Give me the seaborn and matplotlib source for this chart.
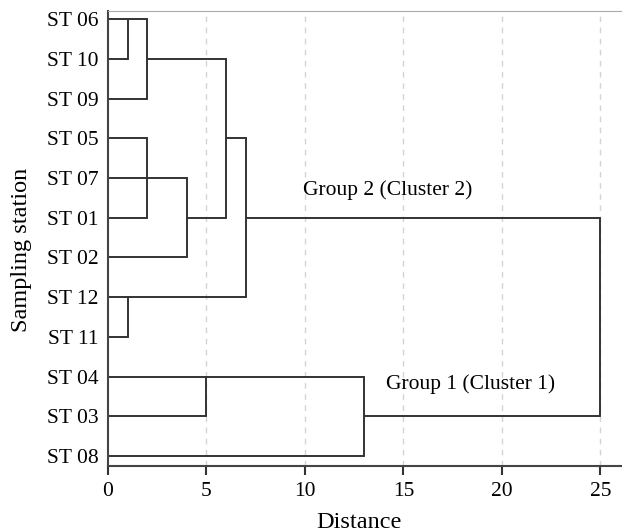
import pandas as pd
import numpy as np
import matplotlib.pyplot as plt
import seaborn as sns

# stations top to bottom, and where each leaf line ends
stations = ["ST 06", "ST 10", "ST 09", "ST 05", "ST 07", "ST 01",
            "ST 02", "ST 12", "ST 11", "ST 04", "ST 03", "ST 08"]
leaf_ends = [2, 1, 2, 2, 4, 2, 4, 7, 1, 13, 5, 13]

# vertical joins: (distance, from station, to station)
joins = [(1, "ST 06", "ST 10"), (2, "ST 06", "ST 09"), (2, "ST 05", "ST 01"),
         (4, "ST 07", "ST 02"), (6, "ST 10", "ST 01"), (7, "ST 05", "ST 12"),
         (1, "ST 12", "ST 11"), (5, "ST 04", "ST 03"), (13, "ST 04", "ST 08"),
         (25, "ST 01", "ST 03")]

# horizontal links between joins: (station row, from distance, to distance)
links = [("ST 10", 2, 6), ("ST 01", 4, 6), ("ST 05", 6, 7),
         ("ST 01", 7, 25), ("ST 03", 13, 25)]

group_labels = [("Group 2 (Cluster 2)", 9.9, "ST 07", 0.3),
                ("Group 1 (Cluster 1)", 14.1, "ST 04", 0.18)]

pos = {s: i for i, s in enumerate(stations)}

#%% build segments
rows = []
k = 0
for s, e in zip(stations, leaf_ends):
    rows += [(0, pos[s], k), (e, pos[s], k)]
    k += 1
for d, a, b in joins:
    rows += [(d, pos[a], k), (d, pos[b], k)]
    k += 1
for s, x0, x1 in links:
    rows += [(x0, pos[s], k), (x1, pos[s], k)]
    k += 1
df = pd.DataFrame(rows, columns=["dist", "row", "seg"])

sns.set_style("white", {"xtick.bottom": True})
plt.rcParams['font.family'] = ['Liberation Serif', 'DejaVu Serif']
plt.rcParams['text.color'] = 'black'
plt.rcParams['axes.labelcolor'] = 'black'
plt.rcParams['ytick.color'] = 'black'

fig = plt.figure(figsize=(6.22, 5.32), dpi=100)
ax = fig.add_axes([0.1736, 0.124, 0.8264, 0.855])

sns.lineplot(data=df, x="dist", y="row", units="seg", estimator=None,
             sort=False, color="#333333", linewidth=1.4, ax=ax)

ax.set_xlim(0, 26.1)
ax.set_ylim(11.25, -0.2)
ax.set_xticks([0, 5, 10, 15, 20, 25])
ax.set_yticks(range(len(stations)))
ax.set_yticklabels(stations)
ax.tick_params(axis='x', which='major', bottom=True, direction='out',
               length=6.5, width=1.5, color='#333333', labelcolor='black',
               labelsize=15.5, pad=5)
ax.tick_params(axis='y', left=False, length=0, labelsize=15.5, pad=7)
for t in [5, 10, 15, 20, 25]:
    ax.axvline(t, color="#d4d4d4", lw=1, ls=(0, (4, 4)), zorder=0)

ax.spines['right'].set_visible(False)
ax.spines['top'].set_color("#aaaaaa")
ax.spines['left'].set_color("#444444")
ax.spines['left'].set_linewidth(1.5)
ax.spines['bottom'].set_color("#444444")
ax.spines['bottom'].set_linewidth(1.5)

for txt, x, s, off in group_labels:
    ax.text(x, pos[s] + off, txt, fontsize=15.5, va="center", ha="left")

ax.set_xlabel("Distance", fontsize=17.5)
ax.set_ylabel("Sampling station", fontsize=17.5)
ax.xaxis.set_label_coords(0.488, -0.1)
ax.yaxis.set_label_coords(-0.148, 0.475)

fig.savefig("out.png", dpi=100)
